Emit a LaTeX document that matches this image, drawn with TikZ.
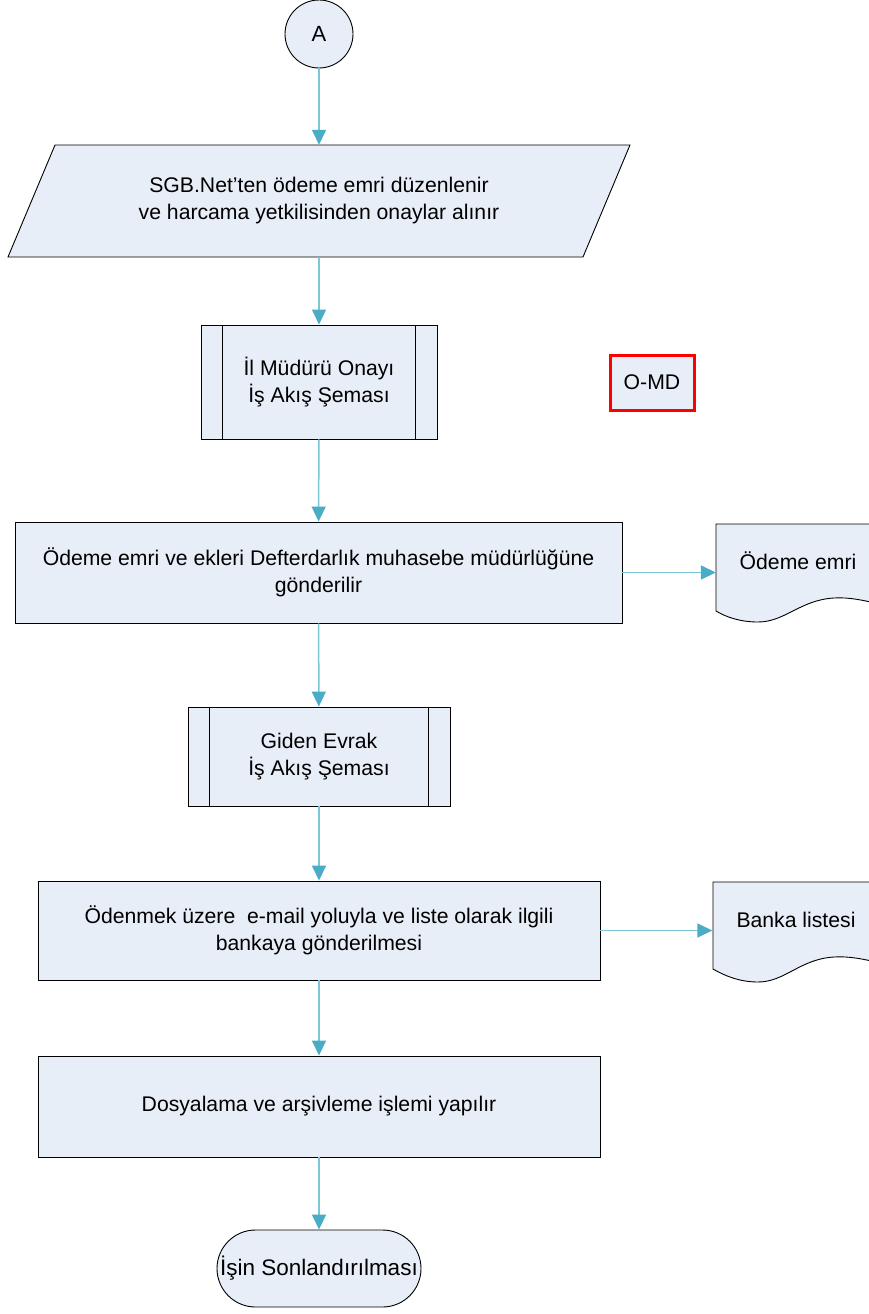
\documentclass[tikz,border=0pt]{standalone}
\usepackage{fontspec}
\setmainfont{Liberation Sans}
\usetikzlibrary{arrows.meta,shapes.geometric,shapes.misc}
\definecolor{fillc}{RGB}{232,238,247}
\definecolor{linec}{RGB}{125,198,218}
\definecolor{headc}{RGB}{75,172,198}
\begin{document}
\begin{tikzpicture}[x=1pt,y=-1pt,
  txt/.style={font=\fontsize{21.2}{27}\selectfont, align=center, text=black},
  boxs/.style={draw=black, line width=0.9pt, fill=fillc, txt},
  procbox/.style={boxs, rectangle, inner sep=0pt},
  ghost/.style={rectangle, inner sep=0pt, txt},
  flow/.style={draw=linec, line width=1.5pt, -{Triangle[length=15pt,width=14pt,color=headc]}}
]
\useasboundingbox (0,0) rectangle (869,1314);
\clip (0,0) rectangle (869,1314);
\fill[white] (0,0) rectangle (869,1314);

% start connector
\node[boxs, circle, minimum size=68pt, inner sep=0pt, font=\fontsize{22}{25}\selectfont] (a) at (319,34) {A};

% parallelogram
\draw[draw=black, line width=0.9pt, fill=fillc] (55,145) -- (630,145) -- (583,257) -- (8,257) -- cycle;
\node[ghost, minimum width=575pt, minimum height=112pt] (p) at (319,201) {SGB.Net’ten ödeme emri düzenlenir\\ve harcama yetkilisinden onaylar alınır};

% subprocess 1
\node[procbox, minimum width=236pt, minimum height=114pt] (s1) at (319,382) {İl Müdürü Onayı\\İş Akış Şeması};
\draw[line width=0.9pt] ([xshift=22pt]s1.north west) -- ([xshift=22pt]s1.south west);
\draw[line width=0.9pt] ([xshift=-22pt]s1.north east) -- ([xshift=-22pt]s1.south east);

% O-MD
\node[procbox, draw=red, line width=3pt, minimum width=84pt, minimum height=55pt] (omd) at (652,382.5) {O-MD};

% process 1
\node[procbox, minimum width=607pt, minimum height=101pt] (b1) at (318.5,572.5) {Ödeme emri ve ekleri Defterdarlık muhasebe müdürlüğüne\\gönderilir};

% document 1
\draw[draw=black, line width=0.9pt, fill=fillc] (716,524) -- (920,524) -- (920,606)
  .. controls (890,612) and (865,596) .. (834,598)
  .. controls (800,600) and (785,622) .. (758,622)
  .. controls (740,622) and (726,617) .. (716,611) -- cycle;
\node[ghost, minimum width=200pt, minimum height=88pt] (d1) at (816,568) {};
\node[txt] (d1t) at (798,561) {Ödeme emri};

% subprocess 2
\node[procbox, minimum width=262pt, minimum height=99pt] (s2) at (319,756.5) {Giden Evrak\\İş Akış Şeması};
\draw[line width=0.9pt] ([xshift=22pt]s2.north west) -- ([xshift=22pt]s2.south west);
\draw[line width=0.9pt] ([xshift=-22pt]s2.north east) -- ([xshift=-22pt]s2.south east);

% process 2
\node[procbox, minimum width=562pt, minimum height=99pt] (b2) at (319,930.5) {Ödenmek üzere\ \ e-mail yoluyla ve liste olarak ilgili\\bankaya gönderilmesi};

% document 2
\draw[draw=black, line width=0.9pt, fill=fillc] (713,882) -- (920,882) -- (920,966)
  .. controls (890,970) and (865,955) .. (834,957)
  .. controls (800,959) and (785,982) .. (758,982)
  .. controls (740,982) and (725,976) .. (713,969) -- cycle;
\node[ghost, minimum width=207pt, minimum height=86pt] (d2) at (816,926) {};
\node[txt] (d2t) at (796,920) {Banka listesi};

% process 3
\node[procbox, minimum width=562pt, minimum height=101pt] (b3) at (319,1106.5) {Dosyalama ve arşivleme işlemi yapılır};

% terminal
\node[boxs, rounded rectangle, minimum width=204pt, minimum height=77pt, inner sep=0pt, font=\fontsize{22.5}{27}\selectfont] (t) at (319,1268.5) {İşin Sonlandırılması};

% connectors
\draw[flow] (a) -- (p);
\draw[flow] (p) -- (s1);
\draw[flow] (s1) -- (b1);
\draw[flow] (b1) -- (s2);
\draw[flow] (s2) -- (b2);
\draw[flow] (b2) -- (b3);
\draw[flow] (b3) -- (t);
\draw[flow] (b1.east) -- (b1.east -| d1.west);
\draw[flow] (b2.east) -- (b2.east -| d2.west);
\end{tikzpicture}
\end{document}
